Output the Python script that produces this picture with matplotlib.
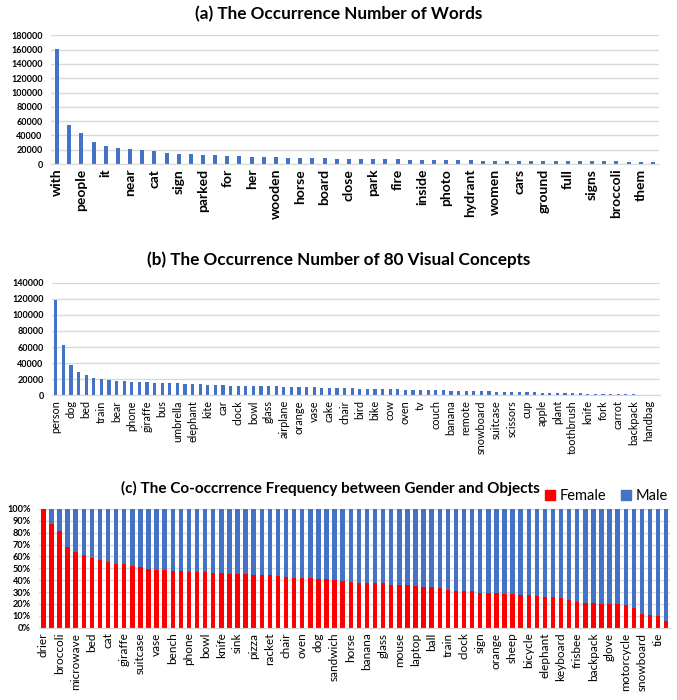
import matplotlib
matplotlib.use("Agg")
import matplotlib.pyplot as plt
import numpy as np
from matplotlib.patches import Patch

plt.rcParams['font.family'] = ['Lato', 'DejaVu Sans']

# ---- (a) word occurrences ----
word_labels = ["with", "people", "it", "near", "cat", "sign", "parked", "for", "her",
               "wooden", "horse", "board", "close", "park", "fire", "inside", "photo",
               "hydrant", "women", "cars", "ground", "full", "signs", "broccoli", "them"]
word_counts = [161000, 55000, 43500, 31000, 25500, 22500, 20500, 19000, 17700, 15500,
               14500, 13500, 13000, 12500, 11500, 11000, 10300, 10000, 9300, 9000,
               8700, 8600, 8500, 7600, 7200, 7100, 7000, 6700, 6600, 5800,
               5700, 5700, 5600, 5200, 5100, 4800, 4800, 4700, 4700, 4600,
               4300, 4300, 4200, 3900, 3800, 3800, 3700, 3400, 3300, 3300]

# ---- (b) visual concept occurrences ----
concept_labels = ["person", "dog", "bed", "train", "bear", "phone", "giraffe", "bus",
                  "umbrella", "elephant", "kite", "car", "clock", "bowl", "glass",
                  "airplane", "orange", "vase", "cake", "chair", "bird", "bike", "cow",
                  "oven", "tv", "couch", "banana", "remote", "snowboard", "suitcase",
                  "scissors", "cup", "apple", "plant", "toothbrush", "knife", "fork",
                  "carrot", "backpack", "handbag"]
concept_counts = [119000, 63000, 38000, 29500, 25000, 22000, 20700, 19500, 18200, 18000,
                  17000, 16600, 16500, 15300, 15200, 15000, 14800, 14200, 14000, 13700,
                  12800, 12500, 12400, 12100, 11900, 11700, 11600, 11500, 11200, 11000,
                  10800, 10600, 10400, 10200, 9900, 9600, 9400, 9000, 8800, 8600,
                  8400, 8200, 8000, 7800, 7600, 7400, 7200, 6900, 6700, 6500,
                  6300, 6100, 5900, 5700, 5500, 5300, 5100, 4900, 4700, 4500,
                  4300, 4100, 3900, 3600, 3300, 3100, 2900, 2700, 2500, 2300,
                  2100, 1900, 1800, 1600, 1400, 1200, 1100, 900, 700, 200]

# ---- (c) gender / object co-occurrence ----
object_labels = ["drier", "broccoli", "microwave", "bed", "cat", "giraffe", "suitcase",
                 "vase", "bench", "phone", "bowl", "knife", "sink", "pizza", "racket",
                 "chair", "oven", "dog", "sandwich", "horse", "banana", "glass", "mouse",
                 "laptop", "ball", "train", "clock", "sign", "orange", "sheep", "bicycle",
                 "elephant", "keyboard", "frisbee", "backpack", "glove", "motorcycle",
                 "snowboard", "tie"]
female_pct = [100, 87.6, 81.7, 68.0, 64.0, 61.2, 59.0, 57.3, 55.3, 53.9,
              53.9, 51.7, 51.1, 49.7, 48.9, 48.9, 47.5, 47.5, 47.2, 47.2,
              47.0, 46.1, 45.8, 45.5, 45.2, 45.2, 44.4, 44.4, 44.1, 43.8,
              43.0, 42.1, 42.1, 41.6, 41.0, 40.7, 40.2, 39.6, 38.2, 37.6,
              37.6, 37.4, 37.4, 36.2, 36.2, 36.0, 35.4, 34.6, 34.3, 33.1,
              32.0, 31.2, 31.2, 30.9, 29.2, 28.9, 28.9, 28.7, 28.7, 27.8,
              27.5, 26.4, 26.1, 26.1, 25.3, 23.6, 21.9, 21.1, 21.1, 20.2,
              20.2, 19.7, 19.4, 16.9, 11.8, 10.4, 10.1, 5.3]
male_pct = [100 - f for f in female_pct]

BLUE = "#4472C4"
RED = "#FF0000"
GRID = "#D9D9D9"
W, H = 677, 700

fig = plt.figure(figsize=(W / 100, H / 100), dpi=100)


def px_axes(left, top, right, bottom):
    return fig.add_axes([left / W, 1 - bottom / H, (right - left) / W, (bottom - top) / H])


def style(ax, n, ymax, ystep):
    ax.set_xlim(-0.5, n - 0.5)
    ax.set_ylim(0, ymax)
    ax.set_yticks(np.arange(0, ymax + 1, ystep))
    ax.yaxis.grid(True, color=GRID, linewidth=1.0)
    ax.set_axisbelow(True)
    for s in ["top", "right", "left"]:
        ax.spines[s].set_visible(False)
    ax.spines["bottom"].set_color(GRID)
    ax.tick_params(axis="both", length=0)
    ax.tick_params(axis="y", pad=6)


# (a)
ax1 = px_axes(51, 35.3, 659, 164)
x1 = np.arange(len(word_counts))
ax1.bar(x1, word_counts, width=0.33, color=BLUE)
style(ax1, len(word_counts), 180000, 20000)
ax1.set_xticks(x1[::2])
ax1.set_xticklabels(word_labels, rotation=90, fontsize=10, fontweight="bold")
for t in ax1.get_yticklabels():
    t.set_fontsize(6.5)
    t.set_fontweight("bold")
fig.text(0.5, 1 - 14 / H, "(a) The Occurrence Number of Words", ha="center", va="center",
         fontsize=12.3, fontweight="bold")

# (b)
ax2 = px_axes(52, 282.7, 660, 395.3)
x2 = np.arange(len(concept_counts))
ax2.bar(x2, concept_counts, width=0.4, color=BLUE)
style(ax2, len(concept_counts), 140000, 20000)
ax2.set_xticks(x2[::2])
ax2.set_xticklabels(concept_labels, rotation=90, fontsize=7.8)
for t in ax2.get_yticklabels():
    t.set_fontsize(6.5)
    t.set_fontweight("bold")
fig.text(0.5, 1 - 260 / H, "(b) The Occurrence Number of 80 Visual Concepts", ha="center",
         va="center", fontsize=12.3, fontweight="bold")

# (c)
ax3 = px_axes(39.3, 509, 670.3, 627.7)
x3 = np.arange(len(female_pct))
ax3.bar(x3, female_pct, width=0.55, color=RED, label="Female")
ax3.bar(x3, male_pct, width=0.55, bottom=female_pct, color=BLUE, label="Male")
style(ax3, len(female_pct), 100, 10)
ax3.set_yticks(np.arange(0, 101, 10))
ax3.set_yticklabels([f"{v}%" for v in range(0, 101, 10)], fontsize=6.6, fontweight="bold")
ax3.set_xticks(x3[::2])
ax3.set_xticklabels(object_labels, rotation=90, fontsize=8.5)
fig.text(330 / W, 1 - 488 / H, "(c) The Co-occrrence Frequency between Gender and Objects",
         ha="center", va="center", fontsize=11, fontweight="bold")
handles = [Patch(color=RED, label="Female"), Patch(color=BLUE, label="Male")]
fig.legend(handles=handles, loc="center left", bbox_to_anchor=(545 / W, 1 - 496 / H),
           ncol=2, frameon=False, fontsize=10.5, handlelength=0.7, handleheight=0.7,
           handletextpad=0.3, columnspacing=1.0, borderaxespad=0, borderpad=0)

fig.savefig("out.png", dpi=100)
